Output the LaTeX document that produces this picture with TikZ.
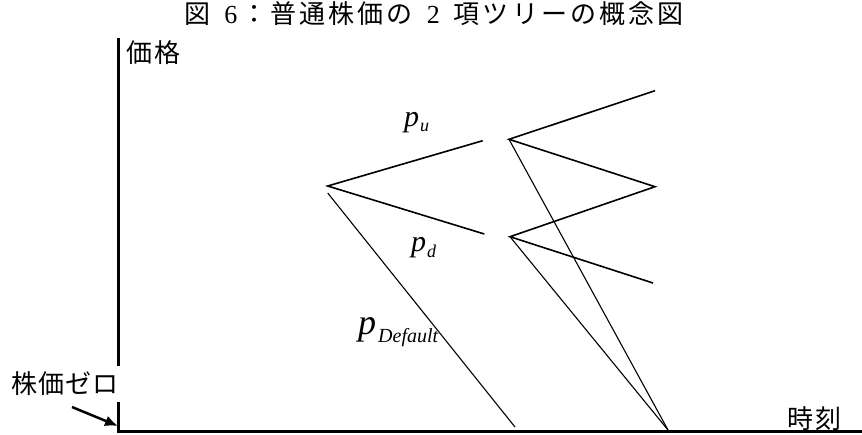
\documentclass[tikz,border=0pt]{standalone}
\usepackage{fontspec}
\setmainfont{Liberation Serif}
\newfontfamily\jp[LetterSpace=5]{Noto Sans CJK JP}
\newfontfamily\jptitle[LetterSpace=12]{Noto Sans CJK JP}
\usetikzlibrary{arrows.meta}
\begin{document}
\begin{tikzpicture}[x=1pt,y=-1pt,
  axisline/.style={line width=3pt},
  branch/.style={line width=1.6pt},
  dflt/.style={line width=1.1pt},
  jplabel/.style={font=\jp\fontsize{26}{26}\selectfont, inner sep=0pt},
  titlelabel/.style={font=\jptitle\fontsize{26}{26}\selectfont, inner sep=0pt},
  plabel/.style={inner sep=0pt, anchor=base west},
]
\useasboundingbox (0,0) rectangle (862,434);

% axes
\coordinate (ytop) at (118.5,38);
\coordinate (ybreak1) at (118.5,366);
\coordinate (ybreak2) at (118.5,402);
\coordinate (origin) at (118.5,432.5);
\coordinate (xleft) at (117,431);
\coordinate (xright) at (862,431);
\draw[axisline] (ytop) -- (ybreak1);
\draw[axisline] (ybreak2) -- (origin);
\draw[axisline] (xleft) -- (xright);

% tree points
\coordinate (A) at (327.7,186);
\coordinate (Adef) at (327.7,193);
\coordinate (Aup) at (482.7,140.7);
\coordinate (Adown) at (484.3,234);
\coordinate (B) at (509,139.3);
\coordinate (C) at (510,236.7);
\coordinate (UU) at (655,90.7);
\coordinate (UD) at (655,186.7);
\coordinate (DD) at (653,283);
\coordinate (Z1) at (515,427);
\coordinate (Z2) at (668,430);

\draw[branch] (Aup) -- (A) -- (Adown);
\draw[branch] (UU) -- (B) -- (UD) -- (C) -- (DD);
\draw[dflt] (Adef) -- (Z1);
\draw[dflt] (B) -- (Z2);
\draw[dflt] (C) -- (Z2);

% probability labels
\node[plabel] (pu) at (404,126) {\fontsize{30}{30}\selectfont\itshape p\hspace{1pt}\raisebox{-5.5pt}{\fontsize{18}{18}\selectfont u}};
\node[plabel] (pd) at (411,251) {\fontsize{30}{30}\selectfont\itshape p\hspace{1pt}\raisebox{-6.5pt}{\fontsize{18}{18}\selectfont d}};
\node[plabel] (pdef) at (358,334) {\fontsize{36}{36}\selectfont\itshape p\hspace{2pt}\raisebox{-8pt}{\fontsize{20}{20}\selectfont Default}};

% texts
\node[titlelabel] (title) at (434,14) {図\hspace{14pt}{\rmfamily 6}\hspace{4pt}：普通株価の\hspace{14pt}{\rmfamily 2}\hspace{14pt}項ツリーの概念図};
\node[jplabel] (price) at (153.5,52.5) {価格};
\node[jplabel] (time) at (814.5,419) {時刻};
\node[jplabel] (zero) at (65,383.5) {株価ゼロ};

% arrow to zero
\coordinate (arrs) at (72,407);
\coordinate (arre) at (118,426);
\draw[line width=2.5pt, -{Latex[length=13pt,width=11pt]}] (arrs) -- (arre);
\end{tikzpicture}
\end{document}
